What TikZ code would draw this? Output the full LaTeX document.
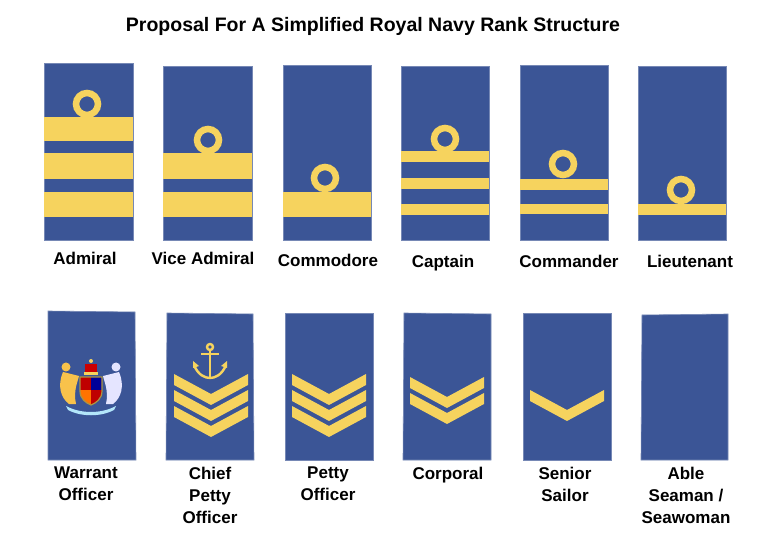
\documentclass[tikz,border=0pt]{standalone}
\usepackage{fontspec}
\setmainfont{Liberation Sans}
\definecolor{navy}{HTML}{3B5596}
\definecolor{gold}{HTML}{F6D35E}
\begin{document}
\begin{tikzpicture}[x=1pt,y=-1pt,
  board/.style={fill=navy,draw=navy!70!white,line width=0.6pt},
  stripe/.style={fill=gold},
  ringst/.style={draw=gold,line width=6.5pt},
  lbl/.style={font=\bfseries\fontsize{17}{22}\selectfont,align=center,anchor=north,inner sep=0pt},
  chev/.pic={\fill[gold] (-37,0) -- (0,20) -- (37,0) -- (37,11) -- (0,31) -- (-37,11) -- cycle;}]
\useasboundingbox (0,0) rectangle (780,540);
\node[font=\bfseries\fontsize{19.5}{22}\selectfont] (title) at (373,26) {Proposal For A Simplified Royal Navy Rank Structure};
% top row
\fill[board] (44,63) rectangle (133,240);
\fill[board] (163,66) rectangle (252,240);
\fill[board] (283,65) rectangle (371,240);
\fill[board] (401,66) rectangle (489,240);
\fill[board] (520,65) rectangle (608,240);
\fill[board] (638,66) rectangle (726,240);
\draw[ringst] (87,104) circle (11);
\fill[stripe] (44,117) rectangle (133,141);
\fill[stripe] (44,153) rectangle (133,179);
\fill[stripe] (44,192) rectangle (133,217);
\draw[ringst] (208,140) circle (11);
\fill[stripe] (163,153) rectangle (252,179);
\fill[stripe] (163,192) rectangle (252,217);
\draw[ringst] (325,178) circle (11);
\fill[stripe] (283,192) rectangle (371,217);
\draw[ringst] (445,139) circle (11);
\fill[stripe] (401,151) rectangle (489,162);
\fill[stripe] (401,178) rectangle (489,189);
\fill[stripe] (401,204) rectangle (489,215);
\draw[ringst] (563,164) circle (11);
\fill[stripe] (520,179) rectangle (608,190);
\fill[stripe] (520,204) rectangle (608,214);
\draw[ringst] (681,190) circle (11);
\fill[stripe] (638,204) rectangle (726,215);
\node[lbl] (l1) at (85,252) {Admiral};
\node[lbl] (l2) at (203,252) {Vice Admiral};
\node[lbl] (l3) at (328,254) {Commodore};
\node[lbl] (l4) at (443,255) {Captain};
\node[lbl] (l5) at (569,255) {Commander};
\node[lbl] (l6) at (690,255) {Lieutenant};
% bottom row
\fill[board] (48,311) -- (135,312) -- (136,460) -- (48,460) -- cycle;
\fill[board] (167,313) -- (253,314) -- (254,460) -- (166,460) -- cycle;
\fill[board] (285,313) -- (373,313) -- (373,460) -- (285,460) -- cycle;
\fill[board] (404,313) -- (491,314) -- (491,460) -- (403,460) -- cycle;
\fill[board] (523,313) -- (611,313) -- (611,460) -- (523,460) -- cycle;
\fill[board] (642,315) -- (728,314) -- (728,460) -- (641,460) -- cycle;
% coat of arms (simplified)
\begin{scope}[shift={(91,386)}]
  \fill[gold!80!orange] (-28,-14) .. controls (-34,0) and (-30,12) .. (-22,18) -- (-15,18) .. controls (-18,5) and (-13,-5) .. (-12,-10) -- cycle;
  \fill[gold!80!orange] (-25,-19) circle (4.5);
  \fill[white!90!blue] (28,-14) .. controls (34,0) and (30,12) .. (22,18) -- (15,18) .. controls (18,5) and (13,-5) .. (12,-10) -- cycle;
  \fill[white!90!blue] (25,-19) circle (4.5);
  \fill[cyan!30!white] (-25,20) .. controls (-10,28) and (10,28) .. (25,20) -- (23,24) .. controls (10,31) and (-10,31) .. (-23,24) -- cycle;
  \begin{scope}
  \clip (-11,-9) -- (11,-9) -- (11,5) .. controls (11,13) and (5,17) .. (0,19) .. controls (-5,17) and (-11,13) .. (-11,5) -- cycle;
  \fill[red!75!black] (-11,-9) rectangle (0,4);
  \fill[red!75!black] (0,4) rectangle (11,19);
  \fill[blue!60!black] (0,-9) rectangle (11,4);
  \fill[orange!90!red] (-11,4) rectangle (0,19);
  \end{scope}
  \draw[gold!70!black,line width=1.2pt] (-11,-9) -- (11,-9) -- (11,5) .. controls (11,13) and (5,17) .. (0,19) .. controls (-5,17) and (-11,13) .. (-11,5) -- cycle;
  \fill[red!80!black] (-6,-22) rectangle (6,-13);
  \fill[gold] (-7,-14) rectangle (7,-11);
  \fill[gold] (0,-25) circle (2);
\end{scope}
% anchor
\begin{scope}[shift={(210,362)},gold,line width=2.4pt]
  \draw (0,-15) circle (3);
  \draw (-9,-8) -- (9,-8);
  \draw (0,-12) -- (0,16);
  \draw (-16,3) .. controls (-12,13) and (-5,16) .. (0,16) .. controls (5,16) and (12,13) .. (16,3);
  \fill (-17,-1) -- (-11,4) -- (-17,6) -- cycle;
  \fill (17,-1) -- (11,4) -- (17,6) -- cycle;
\end{scope}
\pic at (211,374) {chev};
\pic at (211,390) {chev};
\pic at (211,406) {chev};
\pic at (329,374) {chev};
\pic at (329,390) {chev};
\pic at (329,406) {chev};
\pic at (447,377) {chev};
\pic at (447,393) {chev};
\pic at (567,390) {chev};
\node[lbl] (m1) at (86,467) {Warrant\\Officer};
\node[lbl] (m2) at (210,467) {Chief\\Petty\\Officer};
\node[lbl] (m3) at (328,467) {Petty\\Officer};
\node[lbl] (m4) at (448,467) {Corporal};
\node[lbl] (m5) at (565,467) {Senior\\Sailor};
\node[lbl] (m6) at (686,467) {Able\\Seaman /\\Seawoman};
\end{tikzpicture}
\end{document}
